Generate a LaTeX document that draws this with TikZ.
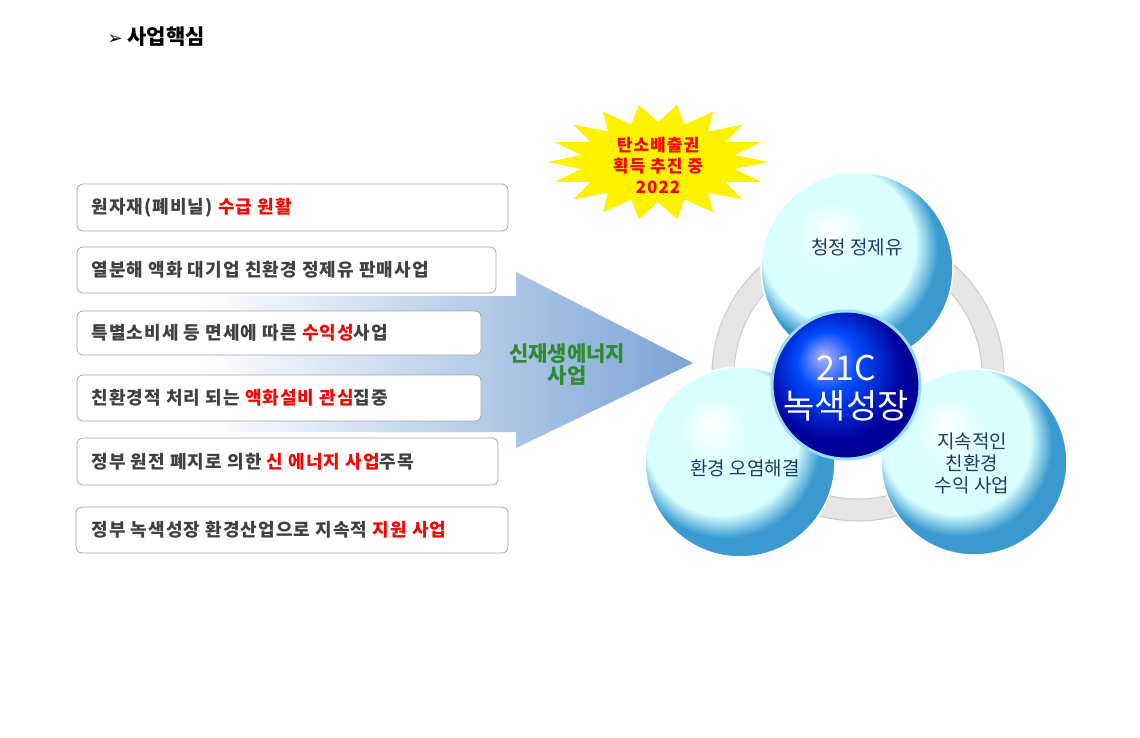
\documentclass[tikz,border=0pt]{standalone}
\usepackage{fontspec}
\setmainfont{Noto Sans CJK KR}
\newfontfamily\sym{DejaVu Sans}
\newfontfamily\wide[LetterSpace=6]{Noto Sans CJK KR}
\usetikzlibrary{shapes.misc,shapes.geometric,shadings}
\definecolor{txt}{HTML}{404040}
\definecolor{rd}{HTML}{FF0000}
\definecolor{navy}{HTML}{1F3A6B}
\definecolor{ar}{HTML}{7BA3D6}
\definecolor{grn}{HTML}{2E8B2E}
\definecolor{rim}{HTML}{3A9AD0}
\pgfdeclareradialshading{glass}{\pgfpoint{-8bp}{10bp}}{color(0bp)=(white);color(10bp)=(white!85!cyan);color(20bp)=(cyan!15!white);color(25bp)=(rim);color(50bp)=(rim)}
\pgfdeclareradialshading{deep}{\pgfpoint{-8bp}{10bp}}{color(0bp)=(blue!30!white);color(10bp)=(blue!70!cyan);color(24bp)=(blue!60!black);color(50bp)=(blue!60!black)}
\tikzset{
  item/.style={draw=gray!70,line width=0.8pt,rounded corners=6pt,fill=white,anchor=north west,inner sep=0pt},
  itxt/.style={anchor=west,font=\wide\fontsize{18}{20}\selectfont\bfseries,text=txt},
  sph/.style={circle,shading=glass,draw=white,line width=1.5pt},
}
\begin{document}
\begin{tikzpicture}[x=1pt,y=-1pt]
\useasboundingbox (0,0) rectangle (1140,737);
\fill[white] (0,0) rectangle (1140,737);
\node[anchor=west,font=\fontsize{21}{24}\selectfont\bfseries] (title) at (104,37) {{\sym\fontsize{18}{18}\selectfont ➢}\ 사업핵심};
% big arrow
\shade[left color=white,right color=ar,shading angle=90] (200,296) -- (516,296) -- (516,272) -- (693,363) -- (516,448) -- (516,432) -- (200,432) -- cycle;
% boxes
\foreach \n/\xa/\xb/\ya/\yb in {1/77/508/184/231,2/77/496/247/293,3/77/481/311/355,4/77/481/375/421,5/77/498/438/485,6/76/508/507/553}{
  \draw[item] (\xa,\ya) rectangle (\xb,\yb);
  \coordinate (b\n) at (88,{(\ya+\yb)/2});
}
\node[itxt] (t1) at (b1) {원자재(폐비닐) \textcolor{rd}{수급 원활}};
\node[itxt] (t2) at (b2) {열분해 액화 대기업 친환경 정제유 판매사업};
\node[itxt] (t3) at (b3) {특별소비세 등 면세에 따른 \textcolor{rd}{수익성}사업};
\node[itxt] (t4) at (b4) {친환경적 처리 되는 \textcolor{rd}{액화설비 관심}집중};
\node[itxt] (t5) at (b5) {정부 원전 폐지로 의한 \textcolor{rd}{신 에너지 사업}주목};
\node[itxt] (t6) at (b6) {정부 녹색성장 환경산업으로 지속적 \textcolor{rd}{지원 사업}};
\node[align=center,font=\fontsize{21}{22}\selectfont\bfseries,text=grn] (arrtxt) at (567,365) {신재생에너지\\사업};
% star
\fill[yellow] plot[samples at={0,...,35}] ({658+ (mod(\x,2)==0 ? 110 : 78)*cos(\x*10)}, {162+ (mod(\x,2)==0 ? 58 : 40)*sin(\x*10)}) -- cycle;
\node[align=center,font=\wide\fontsize{17}{21}\selectfont\bfseries,text=rd] (startxt) at (658,165) {탄소배출권\\획득 추진 중\\2022};
% ring
\draw[line width=22pt,gray!20] (858,375) circle (135pt);
\draw[line width=1pt,gray!40] (858,375) circle (146pt);
\draw[line width=1pt,gray!40] (858,375) circle (124pt);
% spheres
\node[sph,minimum size=192pt] (top) at (857,268) {};
\node[sph,minimum size=190pt] (lft) at (740,462) {};
\node[sph,minimum size=186pt] (rgt) at (974,462) {};
\node[circle,shading=deep,minimum size=148pt,draw=cyan!40!white,line width=3pt] (ctr) at (846,385) {};
\node[font=\fontsize{19}{21}\selectfont,text=navy] (tt) at (857,247) {청정 정제유};
\node[font=\fontsize{19}{21}\selectfont,text=navy] (lt) at (745,468) {환경 오염해결};
\node[align=center,font=\fontsize{19}{22}\selectfont,text=navy] (rt) at (972,463) {지속적인\\친환경\\수익 사업};
\node[align=center,font=\fontsize{34}{38}\selectfont,text=white] (ct) at (846,388) {21C\\녹색성장};
\end{tikzpicture}
\end{document}
